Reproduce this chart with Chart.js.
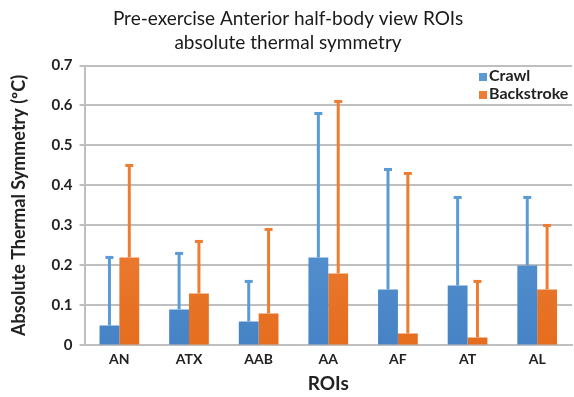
<!DOCTYPE html>
<html lang="en">
<head>
    <meta charset="UTF-8">
    <title>Pre-exercise Anterior half-body view ROIs</title>
    <script src="https://cdn.jsdelivr.net/npm/chart.js"></script>
    <style>
        body {
            margin: 0;
            background: #fff;
            font-family: Lato, sans-serif;
        }
        #wrap {
            position: relative;
            width: 574px;
            height: 397px;
        }
        #legend {
            position: absolute;
            left: 479px;
            top: 66px;
            font-size: 16px;
            font-weight: bold;
            color: #222;
            line-height: 18px;
        }
        #legend span.box {
            display: inline-block;
            width: 8px;
            height: 8px;
            margin-right: 2px;
        }
    </style>
</head>
<body>
    <div id="wrap">
        <canvas id="roiChart" width="574" height="397"></canvas>
        <div id="legend">
            <div><span class="box" style="background:#5b9bd5"></span>Crawl</div>
            <div><span class="box" style="background:#ed7d31"></span>Backstroke</div>
        </div>
    </div>

    <script>
        const categories = ['AN', 'ATX', 'AAB', 'AA', 'AF', 'AT', 'AL'];
        const crawl = [0.05, 0.09, 0.06, 0.22, 0.14, 0.15, 0.20];
        const backstroke = [0.22, 0.13, 0.08, 0.18, 0.03, 0.02, 0.14];
        // upper end of the error bars
        const crawlUpper = [0.22, 0.23, 0.16, 0.58, 0.44, 0.37, 0.37];
        const backstrokeUpper = [0.45, 0.26, 0.29, 0.61, 0.43, 0.16, 0.30];

        function gradient(ctx, area, top, bottom) {
            const g = ctx.createLinearGradient(0, area.top, 0, area.bottom);
            g.addColorStop(0, top);
            g.addColorStop(1, bottom);
            return g;
        }

        const errorBars = {
            id: 'errorBars',
            afterDatasetsDraw(chart) {
                const ctx = chart.ctx;
                const y = chart.scales.y;
                chart.data.datasets.forEach((ds, i) => {
                    const meta = chart.getDatasetMeta(i);
                    meta.data.forEach((bar, j) => {
                        const top = y.getPixelForValue(ds.upper[j]);
                        ctx.save();
                        ctx.strokeStyle = ds.errorColor;
                        ctx.lineWidth = 3;
                        ctx.beginPath();
                        ctx.moveTo(bar.x, bar.y);
                        ctx.lineTo(bar.x, top);
                        ctx.stroke();
                        ctx.beginPath();
                        ctx.moveTo(bar.x - 4, top);
                        ctx.lineTo(bar.x + 4, top);
                        ctx.stroke();
                        ctx.restore();
                    });
                });
            }
        };

        const ctx = document.getElementById('roiChart').getContext('2d');
        new Chart(ctx, {
            type: 'bar',
            data: {
                labels: categories,
                datasets: [{
                    label: 'Crawl',
                    data: crawl,
                    upper: crawlUpper,
                    errorColor: '#5b9bd5',
                    backgroundColor: c => c.chart.chartArea
                        ? gradient(c.chart.ctx, c.chart.chartArea, '#6fa6dc', '#4583c6')
                        : '#5b9bd5'
                }, {
                    label: 'Backstroke',
                    data: backstroke,
                    upper: backstrokeUpper,
                    errorColor: '#ed7d31',
                    backgroundColor: c => c.chart.chartArea
                        ? gradient(c.chart.ctx, c.chart.chartArea, '#f29050', '#e56d1e')
                        : '#ed7d31'
                }]
            },
            options: {
                responsive: false,
                animation: false,
                categoryPercentage: 0.57,
                barPercentage: 1,
                layout: { padding: { left: 4, right: 2, top: 0, bottom: 2 } },
                plugins: {
                    legend: { display: false },
                    tooltip: { enabled: false },
                    title: {
                        display: true,
                        text: ['Pre-exercise Anterior half-body view ROIs', 'absolute thermal symmetry'],
                        color: '#1a1a1a',
                        font: { family: 'Lato', size: 19, weight: 'normal', lineHeight: 1.25 },
                        padding: { top: 7, bottom: 11 }
                    }
                },
                scales: {
                    x: {
                        grid: { display: false, drawTicks: false },
                        border: { color: '#bfbfbf', width: 2 },
                        ticks: { color: '#222', font: { family: 'Lato', size: 14, weight: 'bold' }, padding: 6 },
                        title: {
                            display: true,
                            text: 'ROIs',
                            color: '#222',
                            font: { family: 'Lato', size: 19, weight: 'bold' },
                            padding: { top: -2, bottom: 0 }
                        }
                    },
                    y: {
                        min: 0,
                        max: 0.7,
                        ticks: {
                            stepSize: 0.1,
                            color: '#222',
                            font: { family: 'Lato', size: 15, weight: 'bold' },
                            padding: 7,
                            callback: v => v === 0 ? '0' : v.toFixed(1)
                        },
                        grid: { color: '#bfbfbf', lineWidth: 2, tickLength: 5 },
                        border: { color: '#bfbfbf', width: 2 },
                        title: {
                            display: true,
                            text: 'Absolute Thermal Symmetry (ºC)',
                            color: '#222',
                            font: { family: 'Lato', size: 18, weight: 'bold' },
                            padding: { top: 4, bottom: 15 }
                        }
                    }
                }
            },
            plugins: [errorBars]
        });
    </script>
</body>
</html>
